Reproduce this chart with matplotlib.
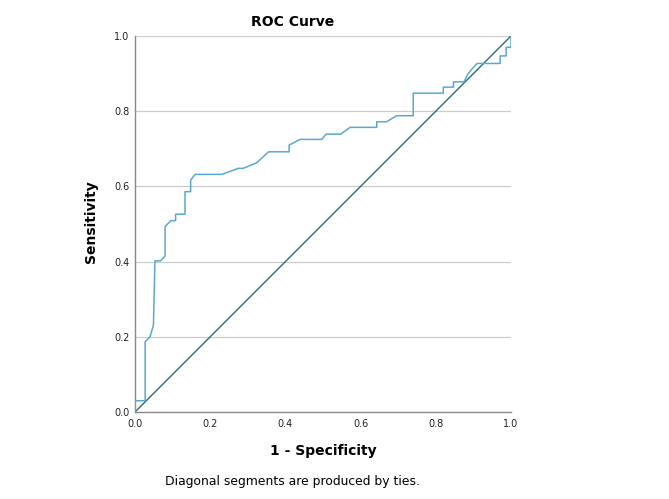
import matplotlib
matplotlib.use("Agg")
import matplotlib.pyplot as plt

# ROC curve (1 - specificity, sensitivity)
fpr = [0.0, 0.0, 0.027, 0.027, 0.040, 0.049, 0.053, 0.068, 0.080, 0.080, 0.095, 0.108,
       0.108, 0.133, 0.133, 0.148, 0.148, 0.160, 0.231, 0.275, 0.288, 0.324, 0.355, 0.410,
       0.410, 0.439, 0.497, 0.508, 0.547, 0.572, 0.643, 0.643, 0.669, 0.696, 0.740, 0.740,
       0.820, 0.820, 0.847, 0.847, 0.875, 0.885, 0.895, 0.910, 0.971, 0.971, 0.987, 0.987,
       1.0, 1.0]
tpr = [0.0, 0.030, 0.030, 0.187, 0.200, 0.231, 0.402, 0.402, 0.415, 0.493, 0.509, 0.509,
       0.526, 0.526, 0.586, 0.586, 0.617, 0.632, 0.632, 0.648, 0.648, 0.663, 0.692, 0.692,
       0.710, 0.725, 0.725, 0.739, 0.739, 0.757, 0.757, 0.772, 0.772, 0.788, 0.788, 0.848,
       0.848, 0.864, 0.864, 0.878, 0.878, 0.898, 0.911, 0.927, 0.927, 0.947, 0.947, 0.970,
       0.970, 1.0]
ref_line = [0.0, 1.0]
ticks = [0.0, 0.2, 0.4, 0.6, 0.8, 1.0]
tick_labels = ["0.0", "0.2", "0.4", "0.6", "0.8", "1.0"]

fig = plt.figure(figsize=(6.69, 4.99), dpi=100)
ax = fig.add_axes([135/669, 1 - 412/499, (511-135)/669, (412-36)/499])

for t in ticks[1:]:
    ax.axhline(t, color="#cccccc", lw=0.9, zorder=0)

ax.plot(ref_line, ref_line, color="#2c6b74", lw=1.0, zorder=2)
ax.plot(fpr, tpr, color="#5aa8cf", lw=1.1, zorder=3)

ax.set_xlim(0, 1)
ax.set_ylim(0, 1)
ax.set_xticks(ticks)
ax.set_xticklabels(tick_labels)
ax.set_yticks(ticks)
ax.set_yticklabels(tick_labels)
ax.tick_params(length=0, labelsize=7, colors="#222222")
ax.tick_params(axis="x", pad=5)
ax.tick_params(axis="y", pad=4)
for s in ["top", "right"]:
    ax.spines[s].set_visible(False)
for s in ["left", "bottom"]:
    ax.spines[s].set_color("#888888")
    ax.spines[s].set_linewidth(1.0)

fig.text(293/669, 1 - 22/499, "ROC Curve", ha="center", va="center",
         fontsize=10, fontweight="bold")
fig.text(323/669, 1 - 451/499, "1 - Specificity", ha="center", va="center",
         fontsize=10, fontweight="bold")
fig.text(91/669, 1 - 222/499, "Sensitivity", ha="center", va="center",
         fontsize=10, fontweight="bold", rotation=90)
fig.text(165/669, 1 - 481/499, "Diagonal segments are produced by ties.",
         ha="left", va="center", fontsize=8.9)

fig.savefig("out.png", dpi=100)
